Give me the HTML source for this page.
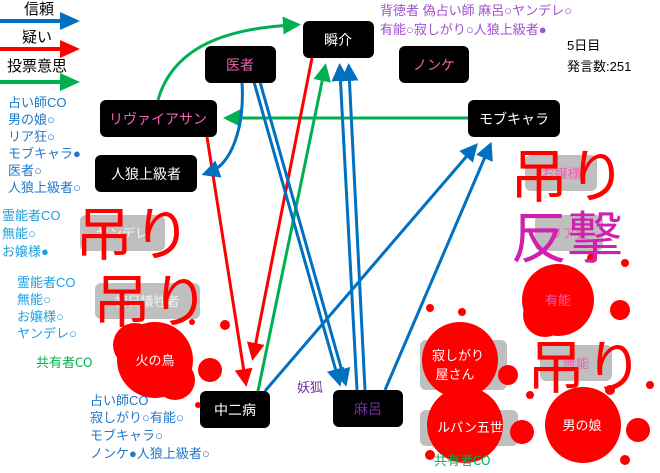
<!DOCTYPE html>
<html><head><meta charset="utf-8"><style>
body{margin:0;background:#fff;width:660px;height:473px;overflow:hidden}
svg{display:block}
text{font-family:"Liberation Sans","Noto Sans CJK JP",sans-serif}
.cj{font-family:"Noto Sans CJK JP",sans-serif}
</style></head><body>
<svg width="660" height="473" viewBox="0 0 660 473" xmlns="http://www.w3.org/2000/svg">
<defs>
<marker id="b" markerWidth="6" markerHeight="6" refX="3" refY="3" orient="auto" markerUnits="strokeWidth"><path d="M0,0L6,3L0,6z" fill="#0070c0"/></marker>
<marker id="r" markerWidth="6" markerHeight="6" refX="3" refY="3" orient="auto" markerUnits="strokeWidth"><path d="M0,0L6,3L0,6z" fill="#ff0000"/></marker>
<marker id="g" markerWidth="6" markerHeight="6" refX="3" refY="3" orient="auto" markerUnits="strokeWidth"><path d="M0,0L6,3L0,6z" fill="#00b050"/></marker>
</defs>
<!-- legend -->
<g font-size="15" fill="#000">
<text x="24" y="14">信頼</text><text x="22" y="42">疑い</text><text x="7" y="71">投票意思</text>
</g>
<line x1="0" y1="21" x2="66" y2="21" stroke="#0070c0" stroke-width="4"/><path d="M60,12L80,21L60,30z" fill="#0070c0"/>
<line x1="0" y1="49" x2="66" y2="49" stroke="#ff0000" stroke-width="4"/><path d="M60,40L80,49L60,58z" fill="#ff0000"/>
<line x1="0" y1="82" x2="66" y2="82" stroke="#00b050" stroke-width="4"/><path d="M60,73L80,82L60,91z" fill="#00b050"/>

<!-- gray boxes -->
<g fill="#bfbfbf">
<rect x="80" y="215" width="85" height="36" rx="6"/>
<rect x="95" y="283" width="105" height="36" rx="6"/>
<rect x="525" y="155" width="72" height="36" rx="6"/>
<rect x="535" y="215" width="68" height="36" rx="6"/>
<rect x="540" y="345" width="72" height="36" rx="6"/>
<rect x="420" y="340" width="87" height="50" rx="6"/>
<rect x="420" y="410" width="98" height="36" rx="6"/>
</g>
<g font-size="13" fill="#fff" text-anchor="middle" opacity="0.8">
<text x="122" y="238">ヤンデレ</text><text x="147" y="306">初日犠牲者</text>
</g>
<g font-size="13" fill="#f060b0" text-anchor="middle">
<text x="561" y="178">お嬢様</text><text x="569" y="238">リア狂</text><text x="576" y="368">無能</text>
</g>

<!-- splats -->
<g fill="#ff0000">
<circle cx="155" cy="360" r="38"/><circle cx="135" cy="345" r="22"/><circle cx="175" cy="380" r="20"/>
<circle cx="210" cy="370" r="12"/><circle cx="225" cy="325" r="5"/><circle cx="192" cy="322" r="3"/><circle cx="198" cy="405" r="3"/>
<circle cx="558" cy="300" r="36"/><circle cx="545" cy="315" r="22"/><circle cx="620" cy="310" r="10"/><circle cx="592" cy="258" r="5"/><circle cx="625" cy="263" r="4"/>
<circle cx="460" cy="360" r="38"/><circle cx="508" cy="375" r="10"/><circle cx="462" cy="312" r="4"/><circle cx="430" cy="308" r="4"/>
<circle cx="465" cy="425" r="38"/><circle cx="522" cy="432" r="12"/><circle cx="430" cy="455" r="5"/>
<circle cx="583" cy="425" r="38"/><circle cx="638" cy="430" r="12"/><circle cx="610" cy="390" r="5"/><circle cx="650" cy="385" r="4"/><circle cx="625" cy="460" r="5"/><circle cx="530" cy="395" r="4"/>
</g>
<g font-size="13" fill="#fff" text-anchor="middle">
<text x="155" y="365">火の鳥</text>
<text x="458" y="360">寂しがり</text><text x="455" y="379">屋さん</text>
<text x="470" y="432">ルパン五世</text><text x="582" y="430">男の娘</text>
</g>
<text x="558" y="305" font-size="13" fill="#f060b0" text-anchor="middle">有能</text>

<!-- arrows -->
<g fill="none" stroke-width="3">
<path d="M158,100 C175,40 240,28 292,25" stroke="#00b050" marker-end="url(#g)"/>
<line x1="468" y1="118" x2="232" y2="118" stroke="#00b050" marker-end="url(#g)"/>
<line x1="258" y1="391" x2="324" y2="72" stroke="#00b050" marker-end="url(#g)"/>
<line x1="312" y1="58" x2="254" y2="352" stroke="#ff0000" marker-end="url(#r)"/>
<line x1="207" y1="137" x2="245" y2="378" stroke="#ff0000" marker-end="url(#r)"/>
<path d="M242,82 C245,130 230,165 210,172" stroke="#0070c0" marker-end="url(#b)"/>
<line x1="254" y1="82" x2="338" y2="378" stroke="#0070c0" marker-end="url(#b)"/>
<line x1="260" y1="82" x2="344" y2="378" stroke="#0070c0" marker-end="url(#b)"/>
<line x1="357" y1="390" x2="340" y2="72" stroke="#0070c0" marker-end="url(#b)"/>
<line x1="365" y1="390" x2="349" y2="72" stroke="#0070c0" marker-end="url(#b)"/>
<line x1="265" y1="391" x2="472" y2="150" stroke="#0070c0" marker-end="url(#b)"/>
<line x1="385" y1="390" x2="488" y2="150" stroke="#0070c0" marker-end="url(#b)"/>
</g>

<!-- nodes -->
<g fill="#000">
<rect x="303" y="21" width="71" height="37" rx="6"/>
<rect x="205" y="46" width="71" height="37" rx="6"/>
<rect x="399" y="46" width="70" height="37" rx="6"/>
<rect x="468" y="100" width="92" height="37" rx="6"/>
<rect x="100" y="100" width="117" height="37" rx="6"/>
<rect x="95" y="155" width="102" height="37" rx="6"/>
<rect x="200" y="391" width="70" height="37" rx="6"/>
<rect x="333" y="390" width="70" height="37" rx="6"/>
</g>
<g font-size="14" text-anchor="middle">
<text x="338" y="45" fill="#fff">瞬介</text>
<text x="240" y="70" fill="#f060b0">医者</text>
<text x="434" y="70" fill="#f060b0">ノンケ</text>
<text x="514" y="124" fill="#fff">モブキャラ</text>
<text x="158" y="124" fill="#f060b0">リヴァイアサン</text>
<text x="146" y="179" fill="#fff">人狼上級者</text>
<text x="235" y="415" fill="#fff">中二病</text>
<text x="368" y="414" fill="#7030a0">麻呂</text>
</g>

<!-- side texts -->
<g font-size="13" fill="#1f78c8" class="cj">
<text x="8" y="107">占い師CO</text><text x="8" y="124">男の娘○</text><text x="8" y="141">リア狂○</text>
<text x="8" y="158">モブキャラ●</text><text x="8" y="175">医者○</text><text x="8" y="192">人狼上級者○</text>
<text x="90" y="405">占い師CO</text><text x="90" y="422">寂しがり○有能○</text>
<text x="90" y="440">モブキャラ○</text><text x="90" y="458">ノンケ●人狼上級者○</text>
</g>
<g font-size="13" fill="#1ea0e0" class="cj">
<text x="2" y="220">霊能者CO</text><text x="2" y="238">無能○</text><text x="2" y="256">お嬢様●</text>
<text x="17" y="287">霊能者CO</text><text x="17" y="304">無能○</text><text x="17" y="321">お嬢様○</text><text x="17" y="338">ヤンデレ○</text>
</g>
<text x="36" y="367" font-size="13" fill="#00b050" class="cj">共有者CO</text>
<text x="434" y="465" font-size="13" fill="#00b050" class="cj">共有者CO</text>
<text x="297" y="392" font-size="13" fill="#7030a0">妖狐</text>
<g font-size="13" fill="#a050d0" class="cj">
<text x="380" y="15">背徳者 偽占い師 麻呂○ヤンデレ○</text>
<text x="380" y="34">有能○寂しがり○人狼上級者●</text>
</g>
<g font-size="13" fill="#000"><text x="567" y="50">5日目</text><text x="567" y="71">発言数:251</text></g>

<!-- big labels -->
<g font-size="58" fill="#ff0000">
<text x="75" y="255">吊り</text><text x="93" y="322">吊り</text>
<text x="510" y="197">吊り</text><text x="527" y="388">吊り</text>
</g>
<text x="511" y="258" font-size="56" fill="#d020b0">反撃</text>
</svg>
</body></html>
